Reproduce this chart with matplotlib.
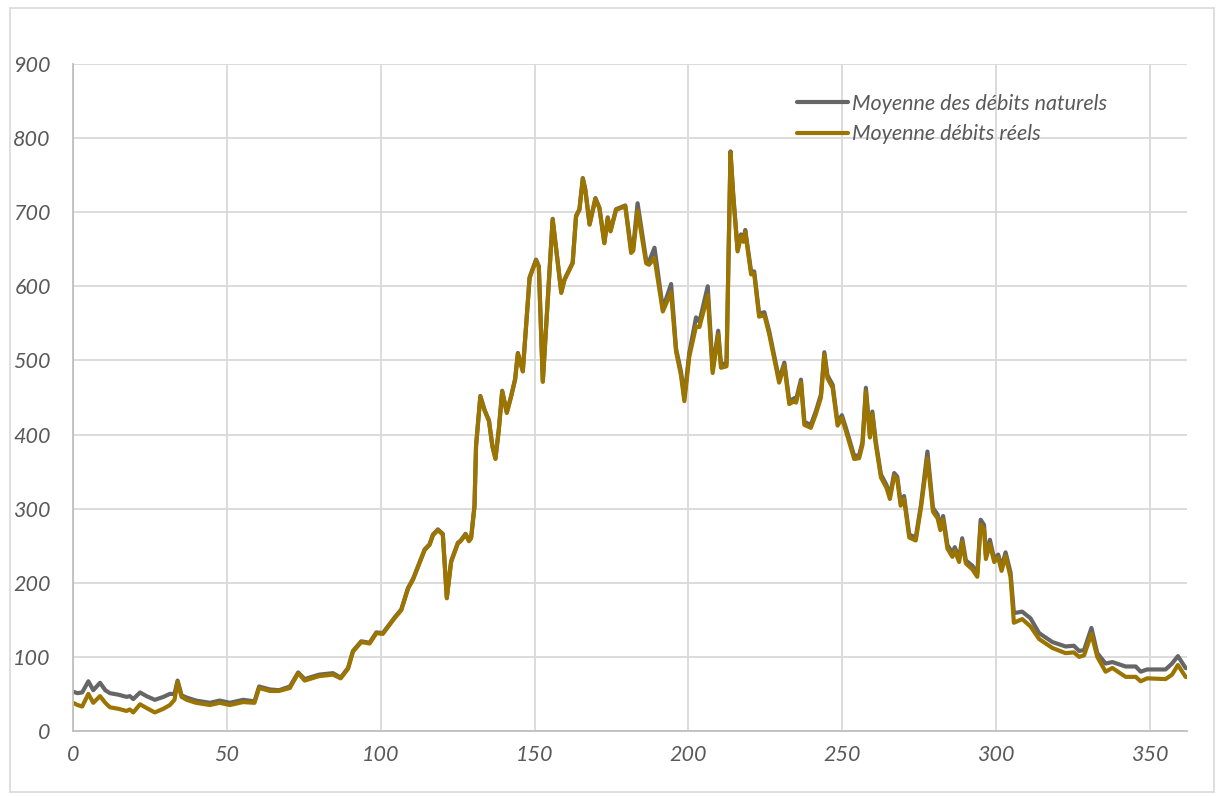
import matplotlib
matplotlib.use("Agg")
import matplotlib.pyplot as plt
from matplotlib.patches import Rectangle

matplotlib.rcParams['font.family'] = ['Lato', 'DejaVu Sans']
matplotlib.rcParams['font.size'] = 15

# jour de l'année
days = [
    0, 1.5, 3, 5, 6.6, 8.8, 10.5, 12, 14.7, 17.4, 18.5, 19.6, 21.8, 23.9, 26.6,
    29.4, 31.5, 33, 34, 35.3, 37, 40, 44.5, 47.7, 51, 55.3, 59, 60.5, 64, 67,
    70.5, 73.2, 75.3, 80, 84.5, 87, 89.4, 91, 93.7, 96.4, 98.6, 100.7, 104.5,
    106.7, 108.9, 110.5, 114.3, 115.9, 117, 118.6, 120.2, 121.5, 122.9, 125.1,
    126, 127.6, 128.7, 129.4, 130.5, 131, 132.4, 133.8, 135.2, 136.3, 137.3,
    138.4, 139.5, 141, 142.4, 143.7, 144.6, 146.2, 148.4, 150.5, 151.4, 152.7,
    155.9, 158.7, 159.7, 162.4, 163.5, 164.6, 165.7, 166.5, 167.9, 169.8,
    171.1, 172.7, 173.8, 174.7, 176.5, 179.5, 180.3, 181.4, 182.1, 183.5,
    186.3, 187.2, 189, 191.7, 194.4, 196, 197.6, 198.7, 200.3, 202.5, 203.6,
    206.3, 207.9, 209.7, 210.6, 212.4, 213.7, 214.6, 216, 217.1, 217.9, 218.5,
    220.4, 221.4, 223, 224.7, 226.3, 229.5, 231.2, 232.8, 234.4, 235, 236.6,
    237.7, 239.8, 241.4, 243.1, 244.2, 245.2, 246.9, 248.5, 249.9, 251.2,
    253.9, 255.5, 256.6, 257.7, 259, 259.8, 260.9, 262.6, 264.4, 265.5, 266.9,
    267.9, 269, 270.1, 271.8, 273.9, 275.6, 277.7, 279.5, 281, 281.9, 282.8,
    284.2, 285.8, 286.6, 288, 289, 290.2, 292.3, 293.9, 295, 296.1, 296.7, 298,
    299.4, 300.7, 301.8, 303.1, 304.7, 305.8, 308.5, 311.2, 314, 318.3, 322.6,
    325.3, 327, 328.6, 331, 332.9, 335.6, 337.8, 342.1, 345.4, 347, 349.1,
    355.1, 357.2, 359.1, 361.6, 363,
]

# débits naturels moyens
natural = [
    53, 51, 52, 67, 55, 65, 55, 51, 49, 46, 47, 43, 52, 47, 42,
    46, 50, 50, 68, 48, 45, 41, 38, 41, 38, 42, 40, 60, 56, 55,
    60, 79, 70, 76, 78, 72, 85, 108, 121, 119, 133, 132, 153,
    164, 193, 205, 245, 252, 265, 272, 266, 180, 229, 254,
    257, 266, 257, 261, 304, 385, 452, 433, 419, 385, 368,
    407, 459, 430, 452, 475, 510, 486, 612, 636, 627, 472,
    691, 592, 609, 632, 695, 704, 746, 731, 684, 719,
    706, 659, 693, 675, 704, 709, 684, 650, 654, 712,
    635, 633, 652, 570, 603, 516, 485, 450, 510, 558, 552,
    600, 488, 540, 495, 496, 782, 723, 650, 670, 663, 676,
    620, 620, 563, 565, 539, 474, 497, 445, 449, 447, 474,
    417, 413, 431, 454, 511, 480, 467, 416, 426, 409,
    371, 372, 390, 463, 400, 431, 391, 346, 332, 317, 348,
    343, 308, 317, 265, 261, 305, 377, 301, 292, 276, 290,
    251, 240, 248, 233, 260, 230, 223, 212, 285, 278, 237, 258,
    232, 238, 221, 241, 214, 159, 161, 152, 132, 120, 114,
    115, 108, 109, 139, 105, 91, 93, 87, 87, 80, 83,
    83, 91, 101, 85, 84,
]

# débits réels moyens
real = [
    38, 35, 33, 50, 38, 47, 38, 32, 30, 27, 29, 25, 36, 31, 25,
    30, 35, 42, 66, 46, 42, 38, 35, 38, 35, 39, 38, 58, 54, 54,
    58, 78, 68, 74, 76, 71, 84, 107, 120, 118, 132, 131, 152,
    163, 192, 204, 244, 251, 264, 271, 265, 179, 228, 253,
    256, 265, 256, 260, 303, 384, 451, 432, 418, 384, 367,
    406, 458, 429, 451, 474, 509, 485, 611, 635, 626, 471,
    690, 591, 608, 631, 694, 703, 745, 730, 683, 718,
    705, 658, 692, 674, 703, 708, 681, 645, 648, 702,
    631, 629, 638, 566, 592, 512, 480, 445, 505, 546, 545,
    588, 483, 535, 490, 492, 780, 721, 647, 667, 660, 673,
    616, 617, 559, 561, 535, 470, 493, 441, 445, 443, 470,
    413, 409, 427, 450, 508, 476, 463, 412, 422, 405,
    367, 368, 386, 458, 396, 427, 387, 342, 328, 313, 344,
    339, 304, 313, 261, 257, 301, 368, 296, 287, 271, 285,
    246, 235, 243, 228, 255, 226, 218, 208, 278, 272, 232, 252,
    228, 234, 216, 236, 208, 146, 151, 141, 124, 112, 105,
    106, 100, 102, 131, 100, 80, 85, 73, 73, 67, 71,
    70, 76, 89, 73, 72,
]

labels = ["Moyenne des débits naturels", "Moyenne débits réels"]
colors = ["#666666", "#9C7400"]
text_grey = "#595959"


def plot_debits():
    fig = plt.figure(figsize=(12.16, 7.96), dpi=100)
    ax = fig.add_axes([0.060, 0.0817, 0.916, 0.838])

    # cadre extérieur
    fig.patches.append(Rectangle((0.008, 0.005), 0.99, 0.985,
                                 transform=fig.transFigure, fill=False,
                                 edgecolor="#D9D9D9", linewidth=1.2))

    l1, = ax.plot(days, natural, color=colors[0], linewidth=3.0,
                  solid_joinstyle="round", solid_capstyle="round")
    l2, = ax.plot(days, real, color=colors[1], linewidth=3.0,
                  solid_joinstyle="round", solid_capstyle="round")

    ax.set_xlim(0, 362)
    ax.set_ylim(0, 900)
    ax.set_xticks(range(0, 351, 50))
    ax.set_yticks(range(0, 901, 100))

    ax.grid(True, color="#D9D9D9", linewidth=1.3)
    ax.set_axisbelow(True)
    for side in ["top", "right"]:
        ax.spines[side].set_visible(False)
    for side in ["left", "bottom"]:
        ax.spines[side].set_color("#BFBFBF")
        ax.spines[side].set_linewidth(1.3)

    ax.tick_params(length=0, colors=text_grey, labelsize=15.5)
    ax.tick_params(axis="y", pad=16)
    ax.tick_params(axis="x", pad=10)
    for t in ax.get_xticklabels() + ax.get_yticklabels():
        t.set_fontstyle("italic")

    leg = ax.legend([l1, l2], labels, loc="upper right",
                    bbox_to_anchor=(0.932, 0.962), frameon=False,
                    borderaxespad=0, borderpad=0.2,
                    handlelength=2.4, handletextpad=0.15, labelspacing=0.5,
                    prop={"style": "italic", "size": 15.5})
    for t in leg.get_texts():
        t.set_color(text_grey)

    fig.savefig("out.png", dpi=100)
    plt.close(fig)


if __name__ == '__main__':
    plot_debits()
